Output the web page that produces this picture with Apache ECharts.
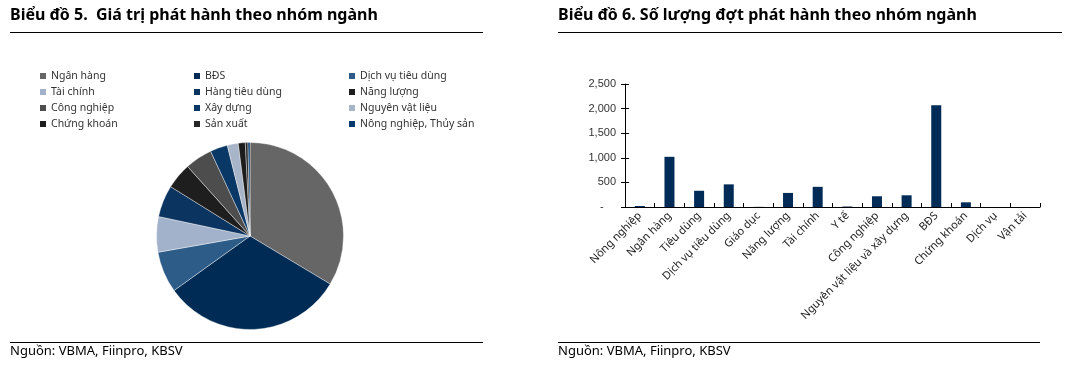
<!DOCTYPE html>
<html>
<head>
<meta charset="utf-8">
<script src="https://cdn.jsdelivr.net/npm/echarts@6/dist/echarts.min.js"></script>
<style>
html,body{margin:0;padding:0;background:#fff;}
#c{width:1072px;height:374px;}
</style>
</head>
<body>
<div id="c"></div>
<script>
// ---- Data ----
var pieNames = ['Ngân hàng','BĐS','Dịch vụ tiêu dùng','Tài chính','Hàng tiêu dùng','Năng lượng','Công nghiệp','Xây dựng','Nguyên vật liệu','Chứng khoán','Sản xuất','Nông nghiệp, Thủy sản'];
var pieValues = [33.5, 31.4, 7.1, 6.1, 5.5, 4.5, 4.7, 3.0, 1.9, 1.2, 0.45, 0.35];

var barCategories = ['Nông nghiệp','Ngân hàng','Tiêu dùng','Dịch vụ tiêu dùng','Giáo dục','Năng lượng','Tài chính','Y tế','Công nghiệp','Nguyên vật liệu và xây dựng','BĐS','Chứng khoán','Dịch vụ','Vận tải'];
var barValues = [20, 1020, 330, 460, 3, 286, 410, 10, 218, 238, 2070, 95, 0, 0];

var yTicks = [0, 500, 1000, 1500, 2000, 2500];

var leftTitle = 'Biểu đồ 5.  Giá trị phát hành theo nhóm ngành';
var rightTitle = 'Biểu đồ 6. Số lượng đợt phát hành theo nhóm ngành';
var sourceText = 'Nguồn: VBMA, Fiinpro, KBSV';

// ---- Styles ----
var pieColors = ['#666666','#002B54','#2E5C89','#A2B2CA','#0C3461','#1E1E1E','#4D4D4D','#0A3866','#A8B4C8','#1C1C1C','#262626','#073A6C'];
var barColor = '#002B56';
var FONT = 'Noto Sans';

var chart = echarts.init(document.getElementById('c'));

var pieData = pieNames.map(function(n, i){
  return {name: n, value: pieValues[i], itemStyle: {color: pieColors[i]}};
});

function legendCol(names, left){
  return {
    orient: 'vertical', left: left, top: 68,
    itemWidth: 8, itemHeight: 8, itemGap: 0, icon: 'rect',
    selectedMode: false, padding: 0,
    data: names,
    textStyle: {fontFamily: FONT, fontSize: 10.5, color: '#333', lineHeight: 16, padding: [0,0,0,-1]}
  };
}
var cols = [[],[],[]];
pieNames.forEach(function(n, i){ cols[i % 3].push(n); });

var yMax = yTicks[yTicks.length - 1];
var yInt = yTicks[1] - yTicks[0];

var option = {
  animation: false,
  backgroundColor: '#fff',
  legend: [legendCol(cols[0], 38), legendCol(cols[1], 192), legendCol(cols[2], 347)],
  grid: {left: 625, right: 32, top: 84, bottom: 167, containLabel: false},
  xAxis: {
    type: 'category', data: barCategories,
    axisLine: {lineStyle: {color: '#000', width: 1}},
    axisTick: {show: true, inside: true, length: 4, interval: 0, lineStyle: {color: '#000'}},
    axisLabel: {rotate: 45, interval: 0, margin: 7, fontFamily: FONT, fontSize: 11, color: '#222'},
    splitLine: {show: false}
  },
  yAxis: [{
    type: 'value', min: 0, max: yMax, interval: yInt,
    axisLine: {show: true, lineStyle: {color: '#000', width: 1}},
    axisTick: {show: true, length: 4, lineStyle: {color: '#000'}},
    axisLabel: {margin: 9, fontFamily: 'Liberation Sans', fontSize: 11, color: '#333',
      formatter: function(v){ return v === 0 ? '-    ' : v.toLocaleString('en-US'); }},
    splitLine: {show: false}
  },{
    type: 'value', min: 0, max: yMax, interval: yInt, position: 'left',
    axisLine: {show: false},
    axisTick: {show: true, inside: true, length: 4, lineStyle: {color: '#000'}},
    axisLabel: {show: false},
    splitLine: {show: false}
  }],
  series: [{
    type: 'pie',
    center: [250, 236], radius: 93.5,
    startAngle: 90, clockwise: true,
    label: {show: false}, labelLine: {show: false},
    emphasis: {disabled: true},
    itemStyle: {borderColor: '#ffffff', borderWidth: 0.4},
    data: pieData
  },{
    type: 'bar', data: barValues, barWidth: 10,
    itemStyle: {color: barColor},
    emphasis: {disabled: true}
  }],
  graphic: [
    {type: 'text', left: 10, top: 7, style: {text: leftTitle, font: 'bold 16px "Noto Sans"', fill: '#000'}},
    {type: 'text', left: 558, top: 7, style: {text: rightTitle, font: 'bold 16px "Noto Sans"', fill: '#000'}},
    {type: 'line', shape: {x1: 10, y1: 32.5, x2: 483, y2: 32.5}, style: {stroke: '#000', lineWidth: 1.2}},
    {type: 'line', shape: {x1: 558, y1: 32.5, x2: 1062, y2: 32.5}, style: {stroke: '#000', lineWidth: 1.2}},
    {type: 'line', shape: {x1: 10, y1: 342.5, x2: 483, y2: 342.5}, style: {stroke: '#000', lineWidth: 1.2}},
    {type: 'line', shape: {x1: 558, y1: 342.5, x2: 1040, y2: 342.5}, style: {stroke: '#000', lineWidth: 1.2}},
    {type: 'text', left: 10, top: 345, style: {text: sourceText, font: '13px "Noto Sans"', fill: '#000'}},
    {type: 'text', left: 558, top: 345, style: {text: sourceText, font: '13px "Noto Sans"', fill: '#000'}}
  ]
};
chart.setOption(option);
</script>
</body>
</html>
